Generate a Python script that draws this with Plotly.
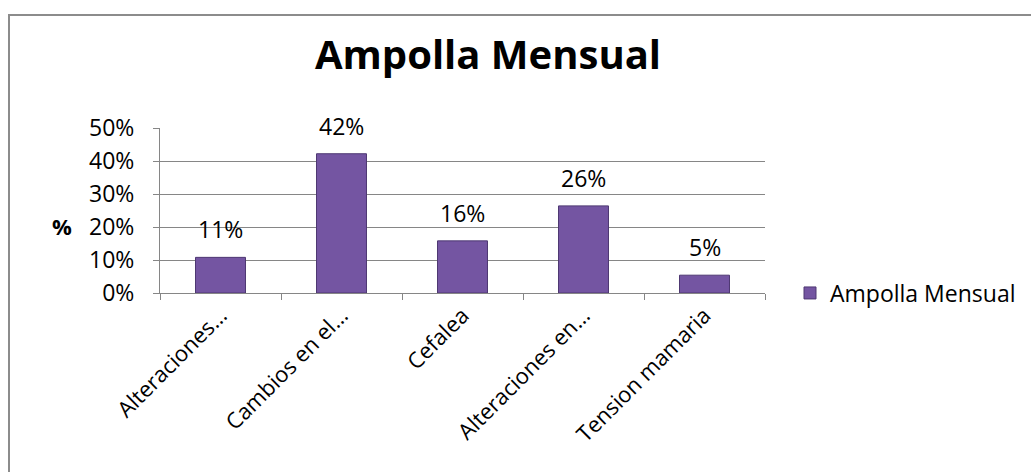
import plotly.graph_objects as go

categories = ["Alteraciones…", "Cambios en el…", "Cefalea", "Alteraciones en…", "Tension mamaria"]
values = [0.108, 0.422, 0.158, 0.264, 0.054]
series_name = "Ampolla Mensual"
y_ticks = [0, 0.1, 0.2, 0.3, 0.4, 0.5]
y_ticklabels = ["0%", "10%", "20%", "30%", "40%", "50%"]

W, H = 1031, 472
L, R, T, B = 160, 266, 128, 179
pw, ph = W - L - R, H - T - B

FONT = "Open Sans"
GRID = "#868686"

fig = go.Figure()
fig.add_trace(go.Bar(
    x=categories, y=values, name=series_name,
    marker=dict(color="#7455A2", line=dict(color="#4E3872", width=1)),
    showlegend=True,
))

annotations = [dict(x=c, y=v, text=f"{round(v * 100):d}%", xref="x", yref="y", showarrow=False,
                    xanchor="center", yanchor="bottom", yshift=10,
                    font=dict(family=FONT, size=23, color="#000000"))
               for c, v in zip(categories, values)]
annotations.append(dict(text="<b>%</b>", x=(62 - L) / pw, y=(H - B - 226) / ph,
                        xref="paper", yref="paper", showarrow=False,
                        xanchor="center", yanchor="middle",
                        font=dict(family=FONT, size=22, color="#000000")))

fig.update_layout(
    width=W, height=H,
    margin=dict(l=L, r=R, t=T, b=B, autoexpand=False),
    paper_bgcolor="white", plot_bgcolor="white",
    bargap=0.587,
    title=dict(text="<b>Ampolla Mensual</b>", x=488 / W, xanchor="center",
               y=1 - 55 / H, yanchor="middle", xref="container", yref="container",
               font=dict(family=FONT, size=40, color="#000000")),
    xaxis=dict(showline=True, linecolor=GRID, linewidth=1, ticks="outside",
               tickson="boundaries", ticklen=6, tickcolor=GRID, tickangle=-45,
               tickfont=dict(family=FONT, size=22, color="#000000"),
               showgrid=False),
    yaxis=dict(range=[0, 0.5], tickvals=y_ticks, ticktext=y_ticklabels,
               showline=True, linecolor=GRID, linewidth=1, ticks="outside",
               ticklen=6, tickcolor=GRID, showgrid=True, gridcolor=GRID,
               gridwidth=1, zeroline=False, ticklabelstandoff=14,
               tickfont=dict(family=FONT, size=23, color="#000000")),
    legend=dict(x=(790 - L) / pw, y=0, xanchor="left", yanchor="middle",
                font=dict(family=FONT, size=23, color="#000000"),
                bgcolor="rgba(0,0,0,0)", itemwidth=30),
    annotations=annotations,
    shapes=[dict(type="rect", xref="paper", yref="paper",
                 x0=(9 - L) / pw, x1=(1045 - L) / pw,
                 y0=(H - B - 485) / ph, y1=(H - B - 15) / ph,
                 line=dict(color="#8C8C8C", width=2), fillcolor="rgba(0,0,0,0)",
                 layer="below")],
)

fig.write_html("out.html")
